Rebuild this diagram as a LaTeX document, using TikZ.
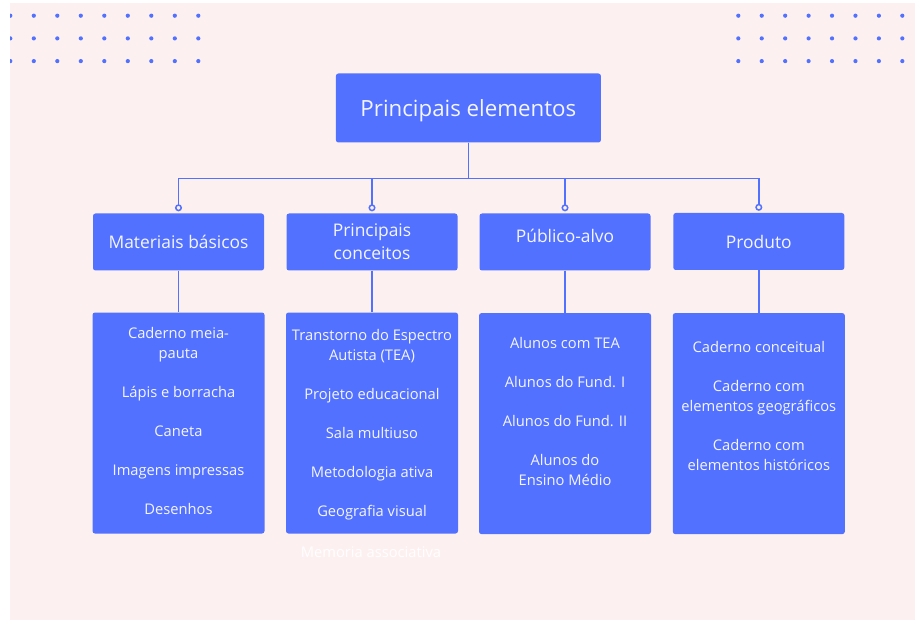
\documentclass[tikz,border=0pt]{standalone}
\usepackage{fontspec}
\setmainfont{Open Sans}
\usetikzlibrary{positioning,arrows.meta}

\definecolor{boxblue}{HTML}{5271FF}
\definecolor{bgpink}{HTML}{FDF0F0}
\definecolor{txtwhite}{HTML}{F4F5FF}

\begin{document}
\begin{tikzpicture}[x=1pt,y=-1pt,
        box/.style={fill=boxblue, rounded corners=2.5pt, inner sep=0pt, text=txtwhite, align=center},
        topbox/.style={box, minimum width=265pt, minimum height=69pt, font=\fontsize{22.3}{26}\selectfont},
        catbox/.style={box, minimum width=171pt, minimum height=57pt, font=\fontsize{17.4}{23}\selectfont},
        listbox/.style={box, minimum width=172pt, minimum height=221pt},
        listtxt/.style={inner sep=0pt, text=txtwhite, align=center, font=\fontsize{14.7}{20}\selectfont},
        link/.style={draw=boxblue, line width=1.6pt},
        knob/.style={-{Circle[open, length=7pt, line width=1.5pt]}}]

        % Background
        \useasboundingbox (0,0) rectangle (915,620);
        \fill[bgpink] (10,3) rectangle (915,620);

        % Dots
        \begin{scope}
        \clip (10,3) rectangle (915,620);
        \foreach \r in {0,1,2} {
            \foreach \c in {0,...,8} \fill[boxblue] (10.3+23.5*\c, 15.7+22.7*\r) circle (2.1);
            \foreach \c in {0,...,7} \fill[boxblue] (738.3+23.43*\c, 15.7+22.7*\r) circle (2.1);
        }
        \end{scope}

        % Top
        \node[topbox] (top) at (468.4,108) {\raisebox{-9pt}[0pt][0pt]{Principais elementos}};

        % Categories
        \node[catbox] (mat)  at (178.5,242) {Materiais básicos};
        \node[catbox] (conc) at (372,242) {Principais\\conceitos};
        \node[catbox] (pub)  at (565,242) {\raisebox{-1pt}[0pt][0pt]{Público-alvo}};
        \node[catbox] (prod) at (758.8,241.5) {Produto};

        % Lists
        \node[listbox] (mat-list)  at (178.5,423) {};
        \node[listbox] (conc-list) at (372,423) {};
        \node[listbox] (pub-list)  at (565,423.6) {};
        \node[listbox] (prod-list) at (758.8,423.6) {};

        \node[listtxt, below=14.5pt of mat-list.north] (mat-txt)
            {Caderno meia-\\pauta\\[19pt]Lápis e borracha\\[19pt]Caneta\\[19pt]Imagens impressas\\[19pt]Desenhos};
        \node[listtxt, below=16.5pt of conc-list.north] (conc-txt)
            {Transtorno do Espectro\\Autista (TEA)\\[19pt]Projeto educacional\\[19pt]Sala multiuso\\[19pt]Metodologia ativa\\[19pt]Geografia visual};
        \node[listtxt, below=24.3pt of pub-list.north] (pub-txt)
            {Alunos com TEA\\[19pt]Alunos do Fund. I\\[19pt]Alunos do Fund. II\\[19pt]Alunos do\\Ensino Médio};
        \node[listtxt, below=27.8pt of prod-list.north] (prod-txt)
            {Caderno conceitual\\[19pt]Caderno com\\elementos geográficos\\[19pt]Caderno com\\elementos históricos};
        \node[listtxt, text=white] (memo) at (371,551.7) {Memoria associativa};

        % Connectors
        \foreach \n in {mat,conc,pub,prod}
            \draw[link, knob] (top.south) -- ++(0,36) -| ([yshift=2pt]\n.north);
        \foreach \n in {mat,conc,pub,prod}
            \draw[link] (\n.south) -- (\n-list.north);
\end{tikzpicture}
\end{document}
